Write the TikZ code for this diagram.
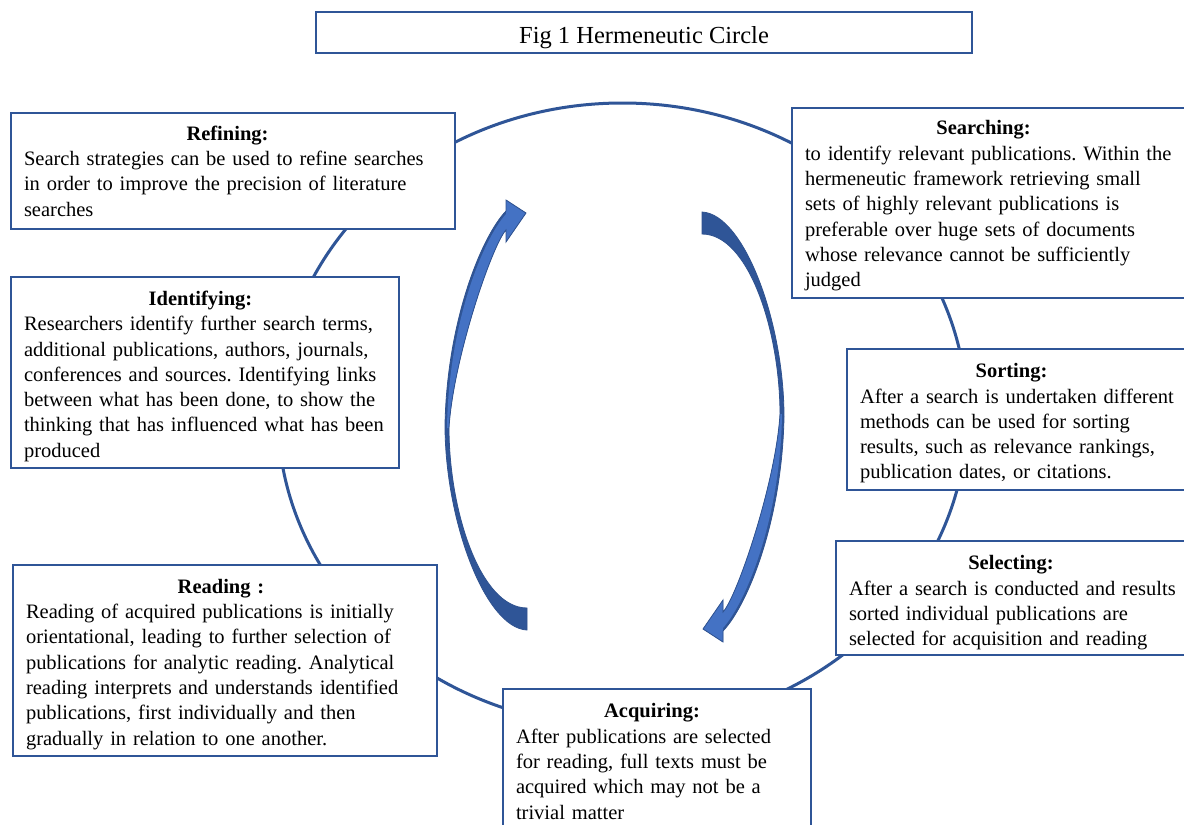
\documentclass[tikz,border=0pt]{standalone}
\usepackage{fontspec}
\setmainfont{Liberation Serif}
\frenchspacing
\definecolor{arrlight}{HTML}{4472C4}
\definecolor{arrdark}{HTML}{2F5597}
\definecolor{arrline}{HTML}{2F528F}
\definecolor{boxline}{HTML}{2F5597}
\newcommand{\ttl}[3][14pt]{\makebox[#2]{\rule{0pt}{#1}\textbf{#3}}\\}
\newcommand{\myl}[1]{\mbox{#1}}
\newcommand{\arrowpath}{(527,-630) .. controls (485,-628) and (445,-520) .. (445,-425)
     .. controls (447,-320) and (482,-236) .. (506,-211)
     -- (506,-200) -- (526,-213) -- (506,-242) -- (506,-230)
     .. controls (492,-245) and (453,-360) .. (449,-428)
     .. controls (449,-510) and (480,-608) .. (527,-608) -- cycle}
\newcommand{\arrowshape}{%
  \fill[arrdark] \arrowpath;
  \fill[arrlight] (506,-214) -- (506,-200) -- (526,-213) -- (506,-242) -- (506,-230)
     .. controls (492,-245) and (453,-360) .. (449,-428)
     -- (447,-428) .. controls (448.5,-322) and (483.5,-239) .. (506,-214) -- cycle;
  \draw[arrline, line width=0.8pt, line join=miter] \arrowpath;
}
\tikzset{
  box/.style={draw=boxline, line width=1.5pt, fill=white, rectangle,
    inner xsep=13pt, inner ysep=0pt,
    font=\fontsize{20.5}{25.3}\selectfont},
  circ/.style={draw=boxline, line width=3pt}
}
\begin{document}
\begin{tikzpicture}[x=1pt,y=1pt]
\useasboundingbox (0,0) rectangle (1184,-825);
\fill[white] (0,0) rectangle (1184,-825);

% the circle
\draw[circ] (622.5,-415) ellipse [x radius=344.5, y radius=312];

% title
\node[box, minimum width=656pt, minimum height=41pt, text height=21pt, text depth=0pt] (title) at (644,-32.5)
  {\fontsize{24.5}{28}\selectfont Fig 1 Hermeneutic Circle};

% curved arrows
\begin{scope}
  \arrowshape
\end{scope}
\begin{scope}[rotate around={180:(614.5,-421)}]
  \arrowshape
\end{scope}

% boxes
\node[box, minimum width=444pt, minimum height=116pt, text width=418pt] (refining) at (233,-171)
  {\ttl{407pt}{Refining:}%
   \myl{Search strategies can be used to refine searches}\\
   \myl{in order to improve the precision of literature}\\
   \myl{searches}};

\node[box, minimum width=388pt, minimum height=191pt, text width=362pt] (identifying) at (205,-372.5)
  {\ttl[22pt]{353pt}{Identifying:}%
   \myl{Researchers identify further search terms,}\\
   \myl{additional publications, authors, journals,}\\
   \myl{conferences and sources. Identifying links}\\
   \myl{between what has been done, to show the}\\
   \myl{thinking that has influenced what has been}\\
   \myl{produced}};

\node[box, minimum width=424pt, minimum height=191pt, text width=398pt] (reading) at (225,-660.5)
  {\ttl[22pt]{390pt}{Reading :}%
   \myl{Reading of acquired publications is initially}\\
   \myl{orientational, leading to further selection of}\\
   \myl{publications for analytic reading. Analytical}\\
   \myl{reading interprets and understands identified}\\
   \myl{publications, first individually and then}\\
   \myl{gradually in relation to one another.}};

\node[box, minimum width=408pt, minimum height=190pt, text width=382pt] (searching) at (996,-203)
  {\ttl[20pt]{357pt}{Searching:}%
   \myl{to identify relevant publications. Within the}\\
   \myl{hermeneutic framework retrieving small}\\
   \myl{sets of highly relevant publications is}\\
   \myl{preferable over huge sets of documents}\\
   \myl{whose relevance cannot be sufficiently}\\
   \myl{judged}};

\node[box, minimum width=353pt, minimum height=141pt, text width=327pt] (sorting) at (1023.5,-419.5)
  {\ttl[22pt]{303pt}{Sorting:}%
   \myl{After a search is undertaken different}\\
   \myl{methods can be used for sorting}\\
   \myl{results, such as relevance rankings,}\\
   \myl{publication dates, or citations.}};

\node[box, minimum width=364pt, minimum height=114pt, text width=338pt] (selecting) at (1018,-598)
  {\ttl[24pt]{324pt}{Selecting:}%
   \myl{After a search is conducted and results}\\
   \myl{sorted individual publications are}\\
   \myl{selected for acquisition and reading}};

\node[box, minimum width=308pt, minimum height=143pt, text width=282pt] (acquiring) at (657,-760.5)
  {\ttl[16pt]{272pt}{Acquiring:}%
   \myl{After publications are selected}\\
   \myl{for reading, full texts must be}\\
   \myl{acquired which may not be a}\\
   \myl{trivial matter}};
\end{tikzpicture}
\end{document}
